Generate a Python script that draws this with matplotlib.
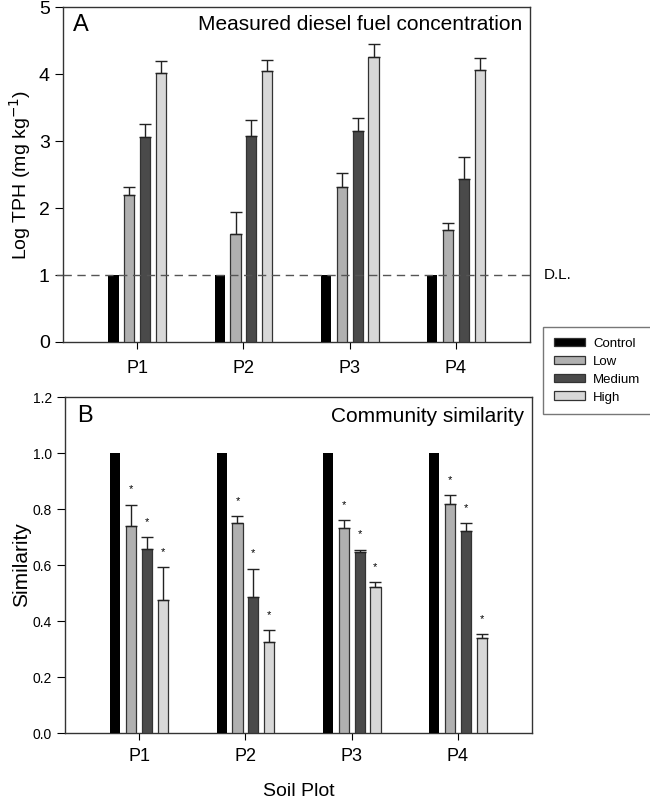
import matplotlib.pyplot as plt
import numpy as np
from matplotlib.patches import Patch

plt.rcParams['font.family'] = ['Liberation Sans', 'DejaVu Sans']

plots = ['P1', 'P2', 'P3', 'P4']
treatments = ['Control', 'Low', 'Medium', 'High']
colors = ['#000000', '#b0b0b0', '#4a4a4a', '#d8d8d8']

# panel A: log TPH (mg/kg), upper error only
tph = {
    'Control': [1.0, 1.0, 1.0, 1.0],
    'Low': [2.19, 1.61, 2.31, 1.67],
    'Medium': [3.06, 3.07, 3.15, 2.44],
    'High': [4.02, 4.04, 4.25, 4.06],
}
tph_err = {
    'Control': [0, 0, 0, 0],
    'Low': [0.13, 0.33, 0.22, 0.10],
    'Medium': [0.19, 0.25, 0.20, 0.32],
    'High': [0.17, 0.17, 0.20, 0.18],
}

# panel B: community similarity to control
sim = {
    'Control': [1.0, 1.0, 1.0, 1.0],
    'Low': [0.741, 0.750, 0.732, 0.818],
    'Medium': [0.657, 0.487, 0.646, 0.722],
    'High': [0.475, 0.324, 0.521, 0.338],
}
sim_err = {
    'Control': [0, 0, 0, 0],
    'Low': [0.074, 0.025, 0.027, 0.031],
    'Medium': [0.043, 0.100, 0.009, 0.028],
    'High': [0.118, 0.044, 0.018, 0.014],
}

x = np.arange(1, len(plots) + 1)
offsets = [-0.225, -0.075, 0.075, 0.225]
width = 0.095

fig = plt.figure(figsize=(6.5, 7.99), dpi=100)
ax1 = fig.add_axes([0.097, 0.572, 0.7185, 0.419])
ax2 = fig.add_axes([0.100, 0.0826, 0.7185, 0.4205])


def draw_bars(ax, vals, errs, stars=False):
    for t, off, c in zip(treatments, offsets, colors):
        ec = 'none' if t == 'Control' else '#333333'
        ax.bar(x + off, vals[t], width, color=c, edgecolor=ec, linewidth=0.9,
               zorder=3)
        if t != 'Control':
            ax.errorbar(x + off, vals[t], yerr=[np.zeros(4), errs[t]],
                        fmt='none', ecolor='#222222', elinewidth=1,
                        capsize=4, capthick=1, zorder=4)
            if stars:
                for xi, v, e in zip(x + off, vals[t], errs[t]):
                    ax.annotate('*', (xi, v + e), xytext=(0, 11),
                                textcoords='offset points', ha='center',
                                va='center', fontsize=8)
    ax.set_xlim(0.3, 4.7)
    ax.set_xticks(x)
    ax.set_xticklabels(plots)
    ax.tick_params(axis='x', length=5, labelsize=13)
    ax.tick_params(axis='y', length=6)
    for s in ax.spines.values():
        s.set_color('#333333')
        s.set_linewidth(1)


draw_bars(ax1, tph, tph_err)
ax1.tick_params(axis='x', pad=8)
ax1.set_ylim(0, 5)
ax1.set_yticks(range(6))
ax1.tick_params(axis='y', labelsize=14)
ax1.axhline(1, color='#555555', linestyle=(0, (6, 4)), linewidth=1,
            zorder=5)
ax1.plot([0.24, 0.3], [1, 1], color='#555555', linewidth=1, clip_on=False)
ax1.text(1.03, 1, 'D.L.', transform=ax1.get_yaxis_transform(),
         va='center', ha='left', fontsize=11)
ax1.set_ylabel('Log TPH (mg kg$^{-1}$)', fontsize=14, labelpad=4)
ax1.text(0.022, 0.948, 'A', transform=ax1.transAxes, fontsize=17,
         va='center', ha='left')
ax1.text(0.983, 0.947, 'Measured diesel fuel concentration',
         transform=ax1.transAxes, fontsize=15, va='center', ha='right')

draw_bars(ax2, sim, sim_err, stars=True)
ax2.tick_params(axis='x', pad=6)
ax2.set_ylim(0, 1.2)
ax2.set_yticks(np.arange(0, 1.21, 0.2))
ax2.set_yticklabels([f'{v:.1f}' for v in np.arange(0, 1.21, 0.2)])
ax2.tick_params(axis='y', labelsize=10)
ax2.set_ylabel('Similarity', fontsize=15, labelpad=1)
ax2.set_xlabel('Soil Plot', fontsize=14, labelpad=13)
ax2.text(0.025, 0.945, 'B', transform=ax2.transAxes, fontsize=17,
         va='center', ha='left')
ax2.text(0.983, 0.942, 'Community similarity', transform=ax2.transAxes,
         fontsize=15, va='center', ha='right')

handles = [Patch(facecolor=c, edgecolor='#333333', linewidth=0.9)
           for c in colors]
leg = fig.legend(handles, treatments, loc='upper left',
                 bbox_to_anchor=(543 / 650, 1 - 327 / 799), fontsize=9.5,
                 frameon=True, fancybox=False, edgecolor='#555555',
                 handlelength=2.4, handleheight=0.65, handletextpad=0.6,
                 labelspacing=0.45, borderpad=0.8, borderaxespad=0)
leg.get_frame().set_linewidth(1)

fig.savefig('out.png', dpi=100)
